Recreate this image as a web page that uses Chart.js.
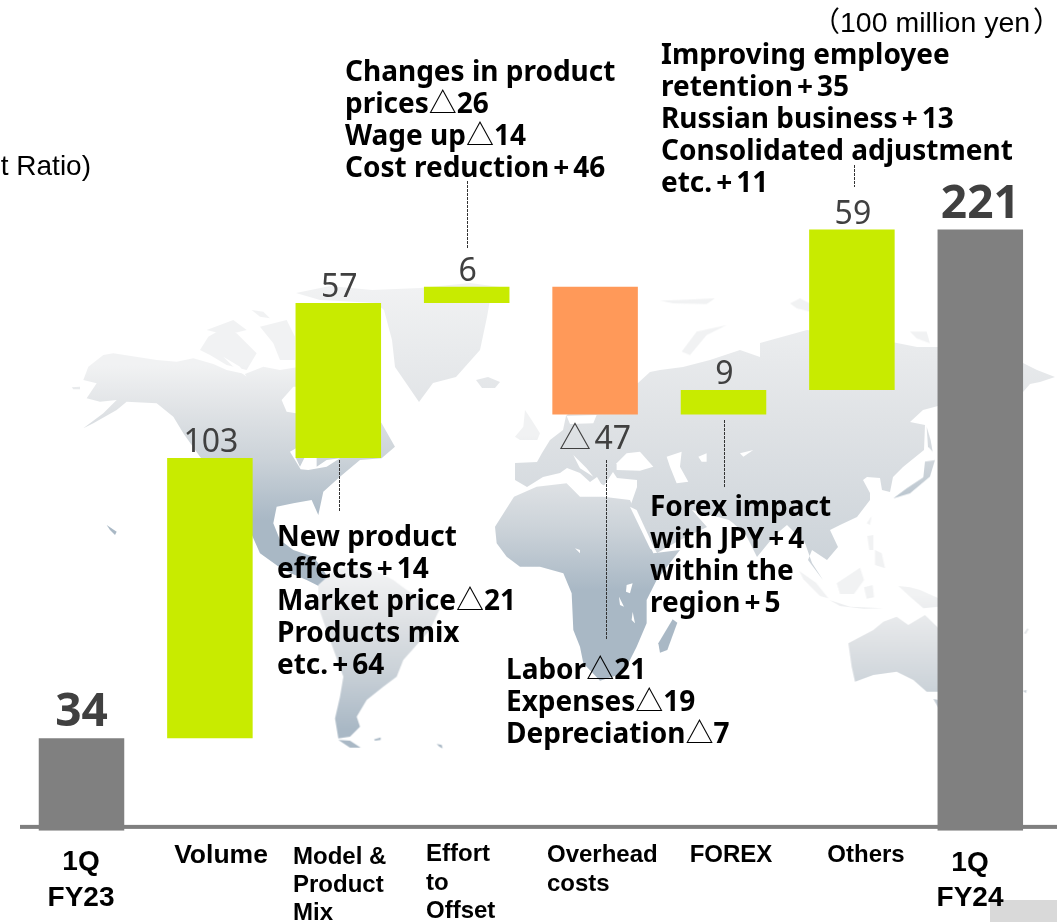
<!DOCTYPE html>
<html>
<head>
<meta charset="utf-8">
<title>Operating profit bridge</title>
<script src="https://cdn.jsdelivr.net/npm/chart.js@4"></script>
<style>
  html, body { margin: 0; padding: 0; background: #fff; }
  #wrap { position: relative; width: 1057px; height: 922px; overflow: hidden; }
  #map { position: absolute; left: 0; top: 0; }
  #chart { position: absolute; left: 0; top: 0; }
</style>
</head>
<body>
<div id="wrap">
<!-- faint world map behind the bars, hand traced -->
<svg id="map" width="1057" height="922" xmlns="http://www.w3.org/2000/svg">
  <defs>
    <linearGradient id="land" gradientUnits="userSpaceOnUse" x1="0" y1="285" x2="0" y2="750">
      <stop offset="0" stop-color="#f1f2f3"/>
      <stop offset="0.3" stop-color="#dfe2e5"/>
      <stop offset="0.6" stop-color="#ccd3d9"/>
      <stop offset="1" stop-color="#a9b8c5"/>
    </linearGradient>
    <filter id="soft"><feGaussianBlur stdDeviation="0.6"/></filter>
  </defs>
  <g filter="url(#soft)">
  <g fill="url(#land)">
    <!-- north + central america -->
    <g transform="translate(60,270) scale(0.3333)">
      <path d="M85,290 L130,255 L160,250 L290,270 L350,275 L400,265 L460,282 L500,300 L555,312 L610,290 L660,300 L720,290 L800,300 L900,380 L965,460 L1005,530 L965,565 L900,570 L840,620 L790,665 L775,735 L755,690 L700,700 L650,710 L640,760 L660,810 L700,840 L760,860 L790,900 L820,950 L800,960 L740,930 L670,900 L600,850 L560,760 L520,680 L420,560 L370,490 L340,440 L290,400 L200,395 L170,420 L100,460 L70,475 L130,430 L170,390 L120,395 L80,385 L110,340 L70,330 Z"/>
      <path d="M420,240 L445,200 L480,180 L530,190 L560,220 L590,250 L560,300 L500,285 L450,255 Z"/>
      <path d="M440,180 L480,165 L520,150 L560,180 L500,195 Z"/>
      <path d="M575,120 L610,125 L630,145 L600,140 Z"/>
      <path d="M600,170 L680,150 L705,200 L705,270 L660,270 L640,220 Z"/>
      <path d="M35,352 L60,350 L60,358 L40,358 Z"/>
      <path d="M140,765 L170,785 L165,795 L150,780 Z"/>
    </g>
    <!-- greenland, iceland -->
    <path d="M296,293 L330,286 L372,290 L420,288 L470,283 L507,288 L490,300 L487,317 L480,350 L456,377 L433,383 L419,402 L406,383 L395,367 L392,340 L384,310 L376,303 L320,300 Z"/>
    <path d="M476,380 L488,377 L500,382 L495,388 L482,388 Z"/>
    <!-- south america -->
    <g transform="translate(250,480) scale(0.3333)">
      <path d="M205,315 L260,265 L350,260 L430,300 L470,330 L570,385 L540,450 L460,540 L440,590 L400,620 L350,660 L320,710 L330,740 L300,770 L265,775 L255,715 L270,650 L280,590 L240,480 L205,380 Z"/>
      <path d="M265,780 L300,782 L332,803 L300,803 Z"/>
      <path d="M372,778 L392,772 L392,780 L375,782 Z"/>
      <path d="M560,792 L575,795 L578,805 L568,800 Z"/>
    </g>
    <!-- eurasia -->
    <path d="M515,463 L537,462 L542,453 L550,440 L563,430 L566,416 L600,380 L638,383 L650,372 L660,370 L683,367 L710,360 L740,350 L760,357 L760,343 L807,330 L870,338 L897,343 L917,347 L938,347 L980,350 L1023,363 L1037,370 L1055,377 L1040,382 L1030,384 L1023,392 L1000,400 L960,405 L938,406 L923,410 L910,422 L925,425 L924,450 L903,467 L893,477 L890,492 L882,490 L880,478 L867,477 L863,480 L870,493 L870,500 L857,517 L840,525 L830,530 L838,547 L827,560 L812,550 L808,560 L823,580 L812,563 L805,543 L787,525 L775,535 L757,557 L746,535 L733,523 L729,520 L692,510 L707,527 L680,540 L657,553 L630,507 L637,487 L637,480 L617,478 L613,472 L603,487 L597,477 L590,482 L580,473 L567,468 L560,473 L543,477 L527,487 L515,480 Z"/>
    <!-- africa, britain, madagascar -->
    <g transform="translate(440,340) scale(0.3333)">
      <path d="M165,560 L222,470 L290,440 L380,430 L420,470 L490,470 L570,480 L640,640 L720,630 L650,720 L620,780 L620,850 L590,920 L550,1000 L480,1022 L430,970 L420,920 L400,870 L395,760 L370,700 L300,680 L240,680 L200,650 L170,610 Z"/>
      <path d="M255,210 L275,240 L300,280 L292,300 L240,300 L225,290 L250,260 Z"/>
      <path d="M655,910 L698,838 L712,848 L682,930 L660,938 Z"/>
    </g>
    <!-- novaya zemlya, arctic bits, japan -->
    <g transform="translate(640,280) scale(0.3333)">
      <path d="M125,215 L170,155 L260,135 L200,165 L150,225 Z"/>
      <path d="M60,62 L110,60 L225,55 L200,72 L100,70 Z"/>
      <path d="M450,70 L480,55 L510,70 L510,95 L470,85 Z"/>
      <path d="M810,155 L860,155 L870,190 L830,175 Z"/>
      <path d="M860,440 L872,480 L878,515 L864,500 Z"/>
      <path d="M760,655 L800,625 L850,592 L855,545 L885,540 L870,590 L810,640 Z"/>
    </g>
    <!-- indonesia, philippines, new guinea, australia -->
    <g transform="translate(740,500) scale(0.3333)">
      <path d="M178,213 L228,248 L265,295 L240,288 L190,238 Z"/>
      <path d="M268,300 L330,320 L430,325 L370,326 L300,318 Z"/>
      <path d="M290,250 L360,203 L372,240 L342,282 L300,282 Z"/>
      <path d="M372,262 L398,255 L402,292 L380,296 Z"/>
      <path d="M382,108 L400,105 L400,150 L388,150 Z"/>
      <path d="M405,150 L425,160 L435,205 L405,195 Z"/>
      <path d="M380,70 L395,48 L390,75 Z"/>
      <path d="M475,258 L510,262 L540,270 L596,295 L596,320 L550,325 L510,290 Z"/>
      <path d="M325,430 L400,390 L430,365 L470,350 L505,375 L555,345 L596,385 L596,575 L560,575 L520,540 L470,515 L400,525 L345,545 L335,500 Z"/>
      <path d="M580,597 L596,600 L596,625 Z"/>
      <path d="M852,400 L862,385 L866,388 L858,402 Z"/>
      <path d="M848,572 L860,570 L858,580 Z"/>
    </g>
  </g>
  <!-- water cut back out of the land -->
  <g fill="#fff">
    <g transform="translate(60,270) scale(0.3333)">
      <path d="M665,390 L700,350 L708,350 L708,430 L680,425 Z"/>
      <path d="M690,545 L708,535 L708,565 L720,590 L735,560 L770,560 L770,590 L800,570 L840,565 L800,590 L745,600 L722,598 Z"/>
      <path d="M490,260 L540,290 L560,320 L520,290 Z"/>
    </g>
    <g transform="translate(250,480) scale(0.3333)">
      <path d="M130,118 L190,118 L240,142 L190,135 L140,128 Z"/>
    </g>
    <g transform="translate(440,340) scale(0.3333)">
      <path d="M380,228 L470,225 L460,250 L390,252 Z"/>
      <path d="M530,370 L560,340 L600,335 L640,380 L600,392 L530,390 Z"/>
      <path d="M680,350 L725,335 L720,380 L745,425 L710,430 L690,380 Z"/>
      <path d="M775,350 L800,340 L800,365 L785,365 Z"/>
      <path d="M380,430 L430,440 L470,425 L500,440 L590,440 L570,478 L490,468 L420,465 L380,430 Z"/>
      <path d="M400,345 L440,385 L460,410 L420,385 Z"/>
      <path d="M570,500 L590,510 L650,640 L630,625 Z"/>
      <path d="M560,735 L578,730 L570,760 L558,755 Z"/>
      <path d="M537,770 L552,800 L540,795 Z"/>
      <path d="M578,815 L585,850 L575,840 Z"/>
      <path d="M405,625 L420,630 L420,640 Z"/>
    </g>
    <g transform="translate(640,280) scale(0.3333)">
      <path d="M300,520 L340,510 L310,530 Z"/>
    </g>
  </g>
  </g>
  <rect x="990" y="900" width="67" height="22" fill="#d9d9d9"/>
</svg>
<canvas id="chart" width="1057" height="922"></canvas>
</div>
<script>
// values in 100 million yen
var categories = ['1Q FY23', 'Volume', 'Model & Product Mix', 'Effort to Offset', 'Overhead costs', 'FOREX', 'Others', '1Q FY24'];
var valueLabels = ['34', '103', '57', '6', '△47', '9', '59', '221'];
var barLow  = [0, 34, 137, 194, 153, 153, 162, 0];
var barHigh = [34, 137, 194, 200, 200, 162, 221, 221];
var barKinds = ['total', 'up', 'up', 'up', 'down', 'up', 'up', 'total'];

var notes = [
  ['Changes in product', 'prices△26', 'Wage up△14', 'Cost reduction+46'],
  ['Improving employee', 'retention+35', 'Russian business+13', 'Consolidated adjustment', 'etc.+11'],
  ['New product', 'effects+14', 'Market price△21', 'Products mix', 'etc.+64'],
  ['Labor△21', 'Expenses△19', 'Depreciation△7'],
  ['Forex impact', 'with JPY+4', 'within the', 'region+5']
];
var noteSpots = [[345, 81], [661, 64], [277, 546], [506, 679], [650, 516]];
var leaders = [[467, 181, 248], [854, 165, 187], [339, 460, 512], [606, 460, 640], [724, 420, 488]];

var tickLines = [['1Q', 'FY23'], ['Volume'], ['Model &', 'Product', 'Mix'], ['Effort', 'to', 'Offset'], ['Overhead', 'costs'], ['FOREX'], ['Others'], ['1Q', 'FY24']];
// x, first baseline, line step, size, align for each axis label (they are not centred under the bars in the source)
var tickSpots = [
  [81, 870, 36, 28, 'center'], [221, 863, 0, 26.5, 'center'], [293, 864, 28, 24, 'left'], [426, 861, 28.5, 24, 'left'],
  [547, 862, 29, 24, 'left'], [731, 862, 0, 24, 'center'], [866, 862, 0, 24, 'center'], [970, 871, 35, 28, 'center']
];

var colors = { total: '#808080', up: '#c8eb00', down: '#ff9959' };

function drawMixed(ctx, text, x, y, size) {
  // the triangle comes from a thin font in the source, and the plus sits wider
  var parts = text.split(/(△|\+)/);
  ctx.textAlign = 'left';
  parts.forEach(function (p) {
    if (!p) return;
    ctx.font = p === '△' ? '400 ' + size + 'px "Noto Sans CJK JP"' : '700 ' + size + 'px "Noto Sans"';
    var pad = p === '+' ? 4 : 0;
    ctx.fillText(p, x + pad, y);
    x += ctx.measureText(p).width + pad * 2;
  });
}

var textPlugin = {
  id: 'textPlugin',
  beforeDatasetsDraw: function (chart) {
    var ctx = chart.ctx;
    var y = chart.scales.y.getPixelForValue(1.4);
    ctx.save();
    ctx.fillStyle = '#7f7f7f';
    ctx.fillRect(20, y - 2, 1037, 4);
    ctx.restore();
  },
  afterDraw: function (chart) {
    var ctx = chart.ctx;
    var bars = chart.getDatasetMeta(0).data;
    ctx.save();
    ctx.textBaseline = 'alphabetic';

    // value labels on the bars
    ctx.fillStyle = '#404040';
    valueLabels.forEach(function (label, i) {
      var bar = bars[i];
      if (barKinds[i] === 'total') {
        ctx.textAlign = 'center';
        ctx.font = '700 46px "Noto Sans"';
        ctx.fillText(label, bar.x, bar.y - 12);
      } else if (barKinds[i] === 'down') {
        var n = label.replace('△', '');
        ctx.font = '400 32px "Noto Sans"';
        var w = ctx.measureText(n).width;
        ctx.textAlign = 'left';
        ctx.fillText(n, bar.x + 47 - w - 11, bar.base + 34);
        ctx.font = '300 32px "Noto Sans CJK JP"';
        ctx.fillText('△', bar.x - 36, bar.base + 34);
      } else {
        ctx.textAlign = 'center';
        ctx.font = '400 32px "Noto Sans"';
        ctx.fillText(label, bar.x + 1, bar.y - 6);
      }
    });

    // dashed leaders
    ctx.strokeStyle = '#333';
    ctx.lineWidth = 1;
    ctx.setLineDash([3, 1]);
    leaders.forEach(function (l) {
      ctx.beginPath();
      ctx.moveTo(l[0] + 0.5, l[1]);
      ctx.lineTo(l[0] + 0.5, l[2]);
      ctx.stroke();
    });
    ctx.setLineDash([]);

    // callout notes
    ctx.fillStyle = '#000';
    notes.forEach(function (lines, i) {
      lines.forEach(function (line, j) {
        drawMixed(ctx, line, noteSpots[i][0], noteSpots[i][1] + j * 32, 28);
      });
    });

    // axis labels
    tickLines.forEach(function (lines, i) {
      var s = tickSpots[i];
      ctx.font = '700 ' + s[3] + 'px "Liberation Sans"';
      ctx.textAlign = s[4];
      lines.forEach(function (line, j) {
        ctx.fillText(line, s[0], s[1] + j * s[2]);
      });
    });

    // unit note and the clipped text on the left
    ctx.font = '400 28px "Liberation Sans"';
    ctx.textAlign = 'right';
    ctx.fillText('t Ratio)', 91, 175);
    ctx.textAlign = 'left';
    ctx.font = '400 28.5px "Liberation Sans"';
    ctx.fillText('100 million yen', 840, 32);
    ctx.font = '400 28px "Noto Sans CJK JP"';
    ctx.fillText('（', 812, 32);
    ctx.fillText('）', 1033, 32);
    ctx.restore();
  }
};

new Chart(document.getElementById('chart'), {
  type: 'bar',
  data: {
    labels: categories,
    datasets: [{
      data: barLow.map(function (low, i) { return [low, barHigh[i]]; }),
      backgroundColor: barKinds.map(function (k) { return colors[k]; }),
      categoryPercentage: 1,
      barPercentage: 0.666,
      borderWidth: 0,
      borderSkipped: false
    }]
  },
  options: {
    responsive: false,
    animation: false,
    layout: { padding: { left: 17.3, right: 12.5, top: 14.7, bottom: 91.3 } },
    plugins: { legend: { display: false }, tooltip: { enabled: false } },
    scales: {
      x: { display: false, offset: true },
      y: { display: false, min: 0, max: 300 }
    }
  },
  plugins: [textPlugin]
});
</script>
</body>
</html>
